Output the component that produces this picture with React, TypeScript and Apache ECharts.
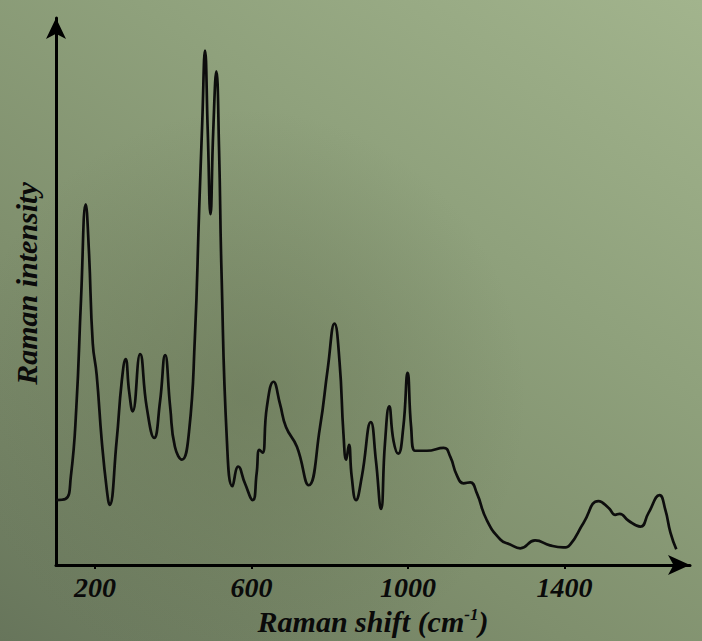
import React, { useEffect, useRef } from "react";
import * as echarts from "echarts";

const ramanShift = [
  101, 124, 138, 152, 164, 176, 184, 194, 204, 217, 230, 237, 255, 268, 278, 287, 296, 315,
  332, 351, 366, 379, 392, 404, 422, 440, 455, 466, 474, 481, 488, 495, 502, 510, 517, 523,
  537, 551, 566, 583, 603, 613, 620, 628, 639, 656, 673, 688, 716, 746, 775, 795, 812, 825, 835, 842,
  849, 856, 867, 882, 905, 918, 931, 941, 952, 963, 975, 988, 999, 1008, 1018, 1048, 1091, 1108, 1125, 1142,
  1159, 1176, 1201, 1236, 1261, 1287, 1325, 1363, 1397, 1415, 1449, 1487, 1513, 1530, 1541, 1564, 1594, 1615, 1643, 1658,
  1671, 1686,
];
const intensity = [
  66, 67, 90, 160, 270, 366, 320, 225, 193, 126, 76, 61, 126, 186, 209, 176, 156, 214,
  160, 129, 166, 213, 160, 120, 107, 135, 230, 360, 450, 522, 440, 356, 440, 501, 420, 300,
  126, 80, 100, 83, 66, 93, 117, 114, 160, 186, 163, 140, 120, 81, 140, 200, 245, 206, 133, 107,
  122, 90, 66, 90, 145, 106, 57, 123, 161, 126, 113, 140, 195, 140, 116, 116, 119, 110, 91, 83,
  84, 73, 46, 26, 21, 17, 25, 20, 18, 21, 43, 65, 58, 51, 52, 45, 39, 53, 71, 56,
  33, 16,
];
const xTickValues = [200, 600, 1000, 1400];
const xAxisTitle = "Raman shift (cm{sup|-1})";
const yAxisTitle = "Raman intensity";

const FONT = "'Liberation Serif', 'Times New Roman', serif";

export default function App() {
  const ref = useRef<HTMLDivElement>(null);
  useEffect(() => {
    if (!ref.current) return;
    const chart = echarts.init(ref.current, undefined, { renderer: "svg" });
    const data = ramanShift.map((x, i) => [x, intensity[i]]);
    const base = {
      fontFamily: FONT,
      fontWeight: "bold" as const,
      fontStyle: "italic" as const,
      color: "#0a0a0a",
    };
    chart.setOption({
      animation: false,
      grid: { left: 56, right: 12, top: 18, bottom: 68, containLabel: false },
      xAxis: {
        type: "value",
        min: 100,
        max: 1721,
        splitLine: { show: false },
        axisLine: {
          show: true,
          symbol: ["none", "arrow"],
          symbolSize: [15, 22],
          lineStyle: { color: "#000", width: 3 },
        },
        axisTick: { show: true, customValues: xTickValues, length: 4, lineStyle: { color: "#000", width: 2 } },
        axisLabel: {
          ...base,
          fontSize: 28,
          customValues: xTickValues,
          margin: 8,
          formatter: (v: number) => String(v),
        },
        name: xAxisTitle,
        nameLocation: "middle",
        nameGap: 34,
        nameTextStyle: {
          ...base,
          fontSize: 30,
          rich: {
            sup: { ...base, fontSize: 17, verticalAlign: "top" },
          },
        },
      },
      yAxis: {
        type: "value",
        min: 0,
        max: 555,
        splitLine: { show: false },
        axisLine: {
          show: true,
          symbol: ["none", "arrow"],
          symbolSize: [15, 21],
          lineStyle: { color: "#000", width: 3 },
        },
        axisTick: { show: false },
        axisLabel: { show: false },
        name: yAxisTitle,
        nameLocation: "middle",
        nameGap: 15,
        nameRotate: 90,
        nameTextStyle: { ...base, fontSize: 30, padding: [0, 0, 0, 16] },
      },
      series: [
        {
          type: "line",
          data,
          smooth: 0.5,
          showSymbol: false,
          lineStyle: { color: "#0d0d0d", width: 2.7 },
        },
      ],
    });
    return () => chart.dispose();
  }, []);
  return (
    <div
      style={{
        position: "fixed",
        left: 0,
        top: 0,
        width: 702,
        height: 641,
        background:
          "radial-gradient(ellipse 40% 45% at 35% 62%, rgba(95,108,78,0.4), rgba(95,108,78,0) 100%), linear-gradient(35deg, #67755b 0%, #7f8f6d 35%, #8fa17c 65%, #a2b48d 100%)",
      }}
    >
      <div ref={ref} style={{ width: 702, height: 641 }} />
    </div>
  );
}
